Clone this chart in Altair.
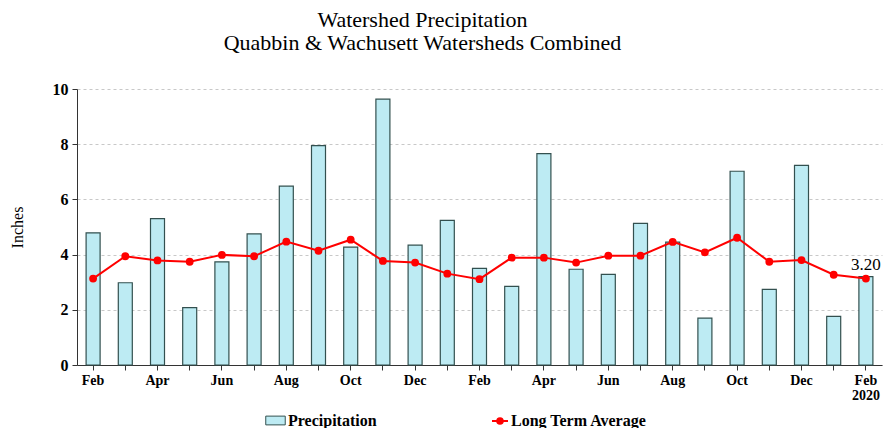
import altair as alt
import pandas as pd
import json

months = ["Feb", "Mar", "Apr", "May", "Jun", "Jul", "Aug", "Sep", "Oct", "Nov", "Dec", "Jan",
          "Feb", "Mar", "Apr", "May", "Jun", "Jul", "Aug", "Sep", "Oct", "Nov", "Dec", "Jan", "Feb"]
precipitation = [4.79, 2.98, 5.30, 2.08, 3.74, 4.75, 6.48, 7.95, 4.27, 9.63, 4.34, 5.24,
                 3.50, 2.85, 7.66, 3.47, 3.28, 5.13, 4.45, 1.70, 7.02, 2.74, 7.23, 1.76, 3.20]
long_term_avg = [3.13, 3.94, 3.79, 3.74, 3.99, 3.94, 4.47, 4.14, 4.54, 3.77, 3.71, 3.31,
                 3.11, 3.89, 3.89, 3.71, 3.96, 3.96, 4.46, 4.08, 4.61, 3.74, 3.80, 3.27, 3.13]
last_year = "2020"
y_ticks = [0, 2, 4, 6, 8, 10]

df = pd.DataFrame({
    "idx": list(range(len(months))),
    "month": months,
    "precip": precipitation,
    "avg": long_term_avg,
    "s1": "Precipitation",
    "s2": "Long Term Average",
})
df["label"] = ""
df.loc[df.index[-1], "label"] = f"{precipitation[-1]:.2f}"

n = len(months)
label_arr = []
for i, m in enumerate(months):
    if i == n - 1:
        label_arr.append([m, last_year])
    elif i % 2 == 0:
        label_arr.append(m)
    else:
        label_arr.append("")
label_expr = json.dumps(label_arr) + "[datum.value]"

FONT = "Liberation Serif"

x_enc = alt.X(
    "idx:O",
    scale=alt.Scale(paddingInner=0.565, paddingOuter=0.2825),
    axis=alt.Axis(
        title=None, labelAngle=0, labelExpr=label_expr, labelFont=FONT, labelFontSize=14,
        labelFontWeight="bold", labelColor="black", domainColor="#333333", tickColor="#333333",
        tickSize=5, labelPadding=3, labelLineHeight=15, grid=False,
    ),
)
y_scale = alt.Scale(domain=[0, 10], nice=False)
y_axis = alt.Axis(
    title="Inches", values=y_ticks, titleFont=FONT, titleFontSize=16, titleFontWeight="normal",
    titleColor="black", titlePadding=27, labelFont=FONT, labelFontSize=16, labelFontWeight="bold",
    labelColor="black", domainColor="#333333", tickColor="#333333", tickSize=5,
    gridColor="#c8c8c8", gridDash=[3, 3], labelPadding=4,
)

bars = alt.Chart(df).mark_bar(stroke="#33504f", strokeWidth=1.2).encode(
    x=x_enc,
    y=alt.Y("precip:Q", scale=y_scale, axis=y_axis),
    fill=alt.Fill("s1:N", scale=alt.Scale(domain=["Precipitation"], range=["#bdebf3"]),
                  legend=alt.Legend(title=None, orient="none", legendX=188, legendY=321,
                                    symbolType="M-1,-0.45H1V0.45H-1Z", symbolSize=380,
                                    symbolStrokeColor="#33504f", symbolStrokeWidth=1,
                                    labelFont=FONT, labelFontSize=16, labelFontWeight="bold",
                                    labelColor="black", labelOffset=2)),
)

line = alt.Chart(df).mark_line(strokeWidth=2, point=alt.OverlayMarkDef(filled=True, size=34, color="red")).encode(
    x=x_enc,
    y=alt.Y("avg:Q", scale=y_scale),
    stroke=alt.Stroke("s2:N", scale=alt.Scale(domain=["Long Term Average"], range=["red"]),
                      legend=alt.Legend(title=None, orient="none", legendX=414, legendY=323,
                                        symbolType="M-1,0H1M-0.35,0A0.35,0.35,0,1,0,0.35,0A0.35,0.35,0,1,0,-0.35,0Z",
                                        symbolSize=256, symbolFillColor="red", symbolStrokeWidth=2,
                                        labelFont=FONT, labelFontSize=16, labelFontWeight="bold",
                                        labelColor="black", labelOffset=2)),
)

text = alt.Chart(df).mark_text(font=FONT, fontSize=17, fontWeight="normal", dy=-12, color="black").encode(
    x=x_enc,
    y=alt.Y("precip:Q", scale=y_scale),
    text="label:N",
)

chart = alt.layer(bars, line, text).properties(
    width=805,
    height=276,
    title=alt.Title(
        ["Watershed Precipitation", "Quabbin & Wachusett Watersheds Combined"],
        font=FONT, fontSize=22, fontWeight="normal", color="black", anchor="middle",
        frame="group", dx=-57, offset=23, lineHeight=23,
    ),
    autosize=alt.AutoSizeParams(type="none"),
    padding={"left": 69, "top": 81, "right": 3, "bottom": 63},
).configure_view(stroke=None).configure_axis(labelOverlap=False)

chart.save("out.html", embed_options={"renderer": "svg", "actions": False})
